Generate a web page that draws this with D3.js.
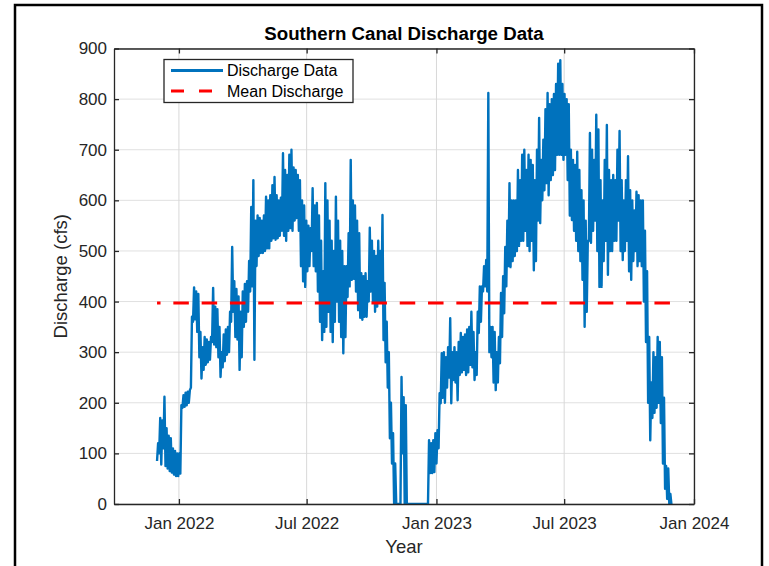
<!DOCTYPE html>
<html>
<head>
<meta charset="utf-8">
<script src="https://cdn.jsdelivr.net/npm/d3@7"></script>
<style>
  body { margin: 0; background: #fff; }
  svg { display: block; font-family: "Liberation Sans", Arial, sans-serif; }
</style>
</head>
<body>
<svg id="chart" width="769" height="566"></svg>
<script>
//Chart data: the daily readings swing fast, so every 3-day step keeps the
//lowest and highest reading (drawn low -> high)
const startDate = Date.UTC(2021, 11, 1); //first reading (Dec 1 2021)
const stepDays = 3;
const dischargeHigh = [
    120, 170, 165, 212, 150, 135, 130, 110, 105, 100,
    100, 195, 215, 220, 222, 225, 370, 428, 420, 415,
    340, 310, 330, 325, 320, 330, 427, 390, 385, 350,
    300, 335, 345, 350, 380, 508, 440, 425, 410, 380,
    420, 435, 440, 480, 587, 640, 560, 570, 565, 560,
    570, 607, 600, 610, 630, 646, 610, 600, 605, 693,
    660, 650, 690, 700, 665, 660, 650, 640, 600, 590,
    560, 550, 545, 624, 590, 595, 570, 520, 460, 634,
    600, 560, 520, 500, 607, 560, 520, 500, 470, 470,
    535, 680, 600, 590, 560, 535, 456, 450, 456, 440,
    546, 520, 500, 490, 520, 500, 571, 437, 360, 300,
    200, 140, 80, 0, 0, 251, 211, 195, 0, 0,
    0, 0, 0, 0, 0, 0, 0, 0, 126, 120,
    126, 140, 146, 219, 298, 300, 290, 310, 367, 300,
    310, 300, 320, 338, 330, 335, 345, 350, 380, 340,
    300, 380, 430, 430, 470, 482, 812, 350, 350, 340,
    300, 330, 417, 450, 508, 560, 634, 600, 600, 600,
    660, 640, 690, 700, 660, 690, 680, 670, 640, 700,
    763, 680, 720, 780, 812, 790, 800, 810, 830, 870,
    877, 830, 810, 800, 790, 700, 680, 670, 696, 660,
    620, 600, 560, 520, 733, 700, 680, 769, 740, 640,
    600, 680, 749, 660, 640, 650, 640, 700, 737, 640,
    600, 640, 687, 620, 600, 580, 617, 610, 600, 600,
    540, 460, 330, 240, 300, 290, 330, 320, 290, 210,
    75, 70, 20, 0
];
const dischargeLow = [
    85, 100, 78, 110, 75, 70, 65, 62, 58, 55,
    55, 60, 190, 192, 195, 200, 230, 360, 365, 340,
    290, 248, 265, 275, 280, 285, 320, 315, 310, 290,
    251, 270, 282, 295, 300, 360, 380, 330, 325, 265,
    290, 350, 360, 380, 420, 430, 285, 470, 490, 496,
    496, 500, 505, 505, 520, 525, 522, 525, 530, 540,
    530, 520, 540, 545, 540, 560, 565, 540, 470, 440,
    429, 460, 470, 500, 470, 460, 420, 360, 324, 340,
    350, 380, 340, 320, 360, 400, 360, 330, 298, 330,
    409, 430, 443, 445, 420, 383, 368, 364, 370, 370,
    400, 420, 400, 380, 390, 400, 400, 324, 280, 230,
    130, 80, 0, 0, 0, 0, 100, 0, 0, 0,
    0, 0, 0, 0, 0, 0, 0, 0, 0, 61,
    61, 63, 80, 110, 199, 210, 200, 230, 250, 199,
    245, 240, 205, 255, 260, 265, 255, 260, 275, 270,
    245, 255, 338, 360, 420, 430, 420, 300, 290, 240,
    225, 240, 278, 330, 377, 430, 470, 468, 480, 490,
    500, 510, 520, 520, 540, 510, 500, 520, 462, 480,
    560, 555, 600, 620, 634, 610, 640, 650, 660, 690,
    690, 690, 680, 690, 640, 570, 561, 540, 520, 500,
    480, 443, 350, 380, 520, 516, 540, 560, 500, 429,
    429, 480, 520, 453, 500, 500, 520, 520, 560, 500,
    482, 500, 520, 460, 443, 480, 500, 470, 480, 470,
    400, 320, 200, 126, 170, 180, 190, 200, 160, 80,
    30, 10, 0, 0
];
const meanDischarge = 397;
const yTicks = [0, 100, 200, 300, 400, 500, 600, 700, 800, 900];
const xTickDates = [Date.UTC(2022, 0, 1), Date.UTC(2022, 6, 1), Date.UTC(2023, 0, 1), Date.UTC(2023, 6, 1), Date.UTC(2024, 0, 1)];
const xTickLabels = ["Jan 2022", "Jul 2022", "Jan 2023", "Jul 2023", "Jan 2024"];
const legendLabels = ["Discharge Data", "Mean Discharge"];

const DAY = 86400000;
const svg = d3.select("#chart");
const plotLeft = 114, plotRight = 694, plotTop = 48.5, plotBottom = 504;
const axisColor = "#262626";

//Figure frame
svg.append("rect")
    .attr("x", 15).attr("y", 5)
    .attr("width", 747).attr("height", 580)
    .attr("fill", "#fff")
    .attr("stroke", "#000")
    .attr("stroke-width", 2.5);

//Scales
const x = d3.scaleUtc()
    .domain([new Date(Date.UTC(2021, 9, 1)), new Date(Date.UTC(2024, 0, 1))])
    .range([plotLeft, plotRight]);
const y = d3.scaleLinear().domain([0, 900]).range([plotBottom, plotTop]);

//Low then high reading for each step
const points = dischargeLow.flatMap((low, i) => [
    { date: new Date(startDate + i * stepDays * DAY), value: low },
    { date: new Date(startDate + (i * stepDays + stepDays / 2) * DAY), value: dischargeHigh[i] }
]);

//Grid
svg.append("g")
    .selectAll("line")
    .data(yTicks)
    .enter()
    .append("line")
    .attr("x1", plotLeft).attr("x2", plotRight)
    .attr("y1", d => y(d)).attr("y2", d => y(d))
    .attr("stroke", "#e0e0e0");
svg.append("g")
    .selectAll("line")
    .data(xTickDates)
    .enter()
    .append("line")
    .attr("x1", d => x(new Date(d))).attr("x2", d => x(new Date(d)))
    .attr("y1", plotTop).attr("y2", plotBottom)
    .attr("stroke", "#d8d8d8");

//Clip to axes box
svg.append("clipPath").attr("id", "plot-clip")
    .append("rect")
    .attr("x", plotLeft).attr("y", plotTop)
    .attr("width", plotRight - plotLeft).attr("height", plotBottom - plotTop);

//Discharge line
svg.append("path")
    .datum(points)
    .attr("clip-path", "url(#plot-clip)")
    .attr("fill", "none")
    .attr("stroke", "#0072bd")
    .attr("stroke-width", 2.4)
    .attr("stroke-linejoin", "round")
    .attr("d", d3.line().x(d => x(d.date)).y(d => y(d.value)));

//Mean line
const firstDate = points[0].date, lastDate = points[points.length - 1].date;
svg.append("path")
    .datum([firstDate, lastDate])
    .attr("fill", "none")
    .attr("stroke", "#ff0000")
    .attr("stroke-width", 3)
    .attr("stroke-dasharray", "15.5 12.8")
    .attr("stroke-dashoffset", 12)
    .attr("d", d3.line().x(d => x(d)).y(() => y(meanDischarge)));

//Axes (ticks point inward on every side)
const tickFont = g => g.selectAll("text")
    .style("font-size", "17px")
    .style("font-family", '"Liberation Sans", Arial, sans-serif')
    .attr("fill", axisColor);
const axisStyle = g => {
    g.selectAll("path,line").attr("stroke", axisColor).attr("stroke-width", 1.3);
};

svg.append("g")
    .attr("transform", `translate(0,${plotBottom})`)
    .call(d3.axisBottom(x).tickValues(xTickDates.map(d => new Date(d)))
        .tickFormat((d, i) => xTickLabels[i]).tickSizeInner(-5).tickSizeOuter(0).tickPadding(13.4))
    .call(axisStyle).call(tickFont);
svg.append("g")
    .attr("transform", `translate(0,${plotTop})`)
    .call(d3.axisTop(x).tickValues(xTickDates.map(d => new Date(d)))
        .tickFormat("").tickSizeInner(-5).tickSizeOuter(0))
    .call(axisStyle);
svg.append("g")
    .attr("transform", `translate(${plotLeft},0)`)
    .call(d3.axisLeft(y).tickValues(yTicks).tickSizeInner(-5).tickSizeOuter(0).tickPadding(7))
    .call(axisStyle).call(tickFont);
svg.append("g")
    .attr("transform", `translate(${plotRight},0)`)
    .call(d3.axisRight(y).tickValues(yTicks).tickFormat("").tickSizeInner(-5).tickSizeOuter(0))
    .call(axisStyle);

//Title and axis labels
svg.append("text")
    .attr("x", (plotLeft + plotRight) / 2).attr("y", 39.5)
    .attr("text-anchor", "middle")
    .style("font-size", "18.7px").style("font-weight", "bold")
    .attr("fill", "#000")
    .text("Southern Canal Discharge Data");
svg.append("text")
    .attr("x", (plotLeft + plotRight) / 2).attr("y", 553)
    .attr("text-anchor", "middle")
    .style("font-size", "18.5px")
    .attr("fill", axisColor)
    .text("Year");
svg.append("text")
    .attr("transform", `translate(67,${(plotTop + plotBottom) / 2}) rotate(-90)`)
    .attr("text-anchor", "middle")
    .style("font-size", "18.5px")
    .attr("fill", axisColor)
    .text("Discharge (cfs)");

//Legend
const legend = svg.append("g").attr("id", "legend");
legend.append("rect")
    .attr("x", 164).attr("y", 59.5)
    .attr("width", 189).attr("height", 43)
    .attr("fill", "#fff")
    .attr("stroke", axisColor)
    .attr("stroke-width", 1.3);
const legendRows = legend.selectAll("g.row")
    .data(legendLabels)
    .enter()
    .append("g")
    .attr("class", "row")
    .attr("transform", (d, i) => `translate(0,${70.5 + i * 20.5})`);
legendRows.append("line")
    .attr("x1", 171).attr("x2", 223)
    .attr("stroke", (d, i) => i === 0 ? "#0072bd" : "#ff0000")
    .attr("stroke-width", 3)
    .attr("stroke-dasharray", (d, i) => i === 0 ? null : "13 15");
legendRows.append("text")
    .attr("x", 227).attr("dy", "0.35em")
    .style("font-size", "16px")
    .attr("fill", "#000")
    .text(d => d);
</script>
</body>
</html>
